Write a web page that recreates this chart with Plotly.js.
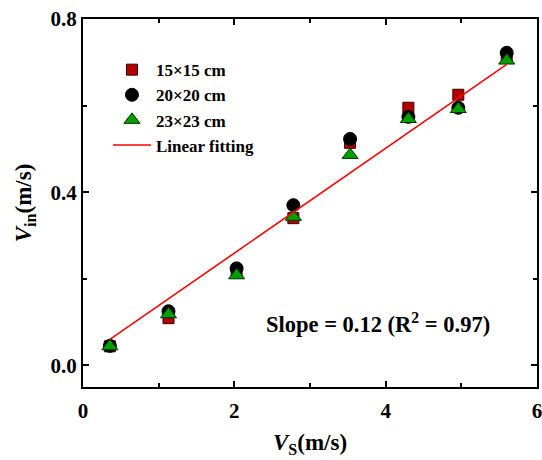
<!DOCTYPE html>
<html><head><meta charset="utf-8">
<script src="https://cdn.plot.ly/plotly-3.0.1.min.js"></script>
<style>html,body{margin:0;padding:0;background:#fff}</style>
</head><body><div id="plot" style="width:542px;height:460px"></div>
<script>
const vs = [0.355, 1.13, 2.03, 2.78, 3.53, 4.30, 4.96, 5.60];
const vin15 = [0.044, 0.109, 0.215, 0.340, 0.514, 0.595, 0.625, 0.710];
const vin20 = [0.045, 0.125, 0.224, 0.370, 0.523, 0.574, 0.595, 0.722];
const vin23 = [0.044, 0.118, 0.208, 0.343, 0.486, 0.569, 0.592, 0.704];
const fitX = [0.355, 5.60];
const fitY = [0.060, 0.695];
const names = ['15×15 cm', '20×20 cm', '23×23 cm', 'Linear fitting'];

const fontFam = '"Liberation Serif", "Times New Roman", serif';
const traces = [
  {x: vs, y: vin15, mode: 'markers', type: 'scatter', name: names[0],
   marker: {symbol: 'square', size: 11, color: '#b30000', line: {color: '#3a0000', width: 1}}},
  {x: vs, y: vin20, mode: 'markers', type: 'scatter', name: names[1],
   marker: {symbol: 'circle', size: 13, color: '#000000', line: {color: '#000', width: 1}}},
  {x: vs, y: vin23, mode: 'markers', type: 'scatter', name: names[2],
   marker: {symbol: 'triangle-up', size: 14, color: '#00a000', line: {color: '#003300', width: 1}}},
  {x: fitX, y: fitY, mode: 'lines', type: 'scatter', name: names[3],
   line: {color: '#ff0000', width: 1.6}}
];
const axisCommon = {
  showgrid: false, zeroline: false, showline: true, linecolor: '#000', linewidth: 2,
  mirror: 'allticks', ticks: 'inside', ticklen: 6, tickwidth: 2, tickcolor: '#000',
  tickfont: {family: fontFam, size: 21, color: '#000', weight: 'bold'}
};
const layout = {
  width: 542, height: 460,
  margin: {l: 83, r: 5, t: 19, b: 73},
  paper_bgcolor: '#fff', plot_bgcolor: '#fff',
  font: {family: fontFam, color: '#000'},
  showlegend: true,
  legend: {x: 0.055, y: 0.91, xanchor: 'left', yanchor: 'top', bgcolor: 'rgba(0,0,0,0)',
           itemwidth: 38,
           font: {family: fontFam, size: 17, color: '#000', weight: 'bold'}, tracegroupgap: 0},
  xaxis: Object.assign({}, axisCommon, {
    range: [0, 6], dtick: 2, tick0: 0, ticklabelstandoff: 4, ticklabeloverflow: 'allow',
    minor: {ticks: 'inside', dtick: 1, ticklen: 4, tickwidth: 2, tickcolor: '#000'},
    title: {text: '<i>V</i><sub>S</sub>(m/s)', standoff: 12,
            font: {family: fontFam, size: 23, color: '#000', weight: 'bold'}}
  }),
  yaxis: Object.assign({}, axisCommon, {
    range: [-0.05, 0.8], dtick: 0.4, tick0: 0, tickformat: '.1f',
    minor: {ticks: 'inside', dtick: 0.2, ticklen: 4, tickwidth: 2, tickcolor: '#000'},
    title: {text: '<i>V</i><sub>in</sub>(m/s)', standoff: 12,
            font: {family: fontFam, size: 23, color: '#000', weight: 'bold'}}
  }),
  annotations: [{
    xref: 'paper', yref: 'paper', x: 0.65, y: 0.175, xanchor: 'center', yanchor: 'middle',
    showarrow: false, text: 'Slope = 0.12 (R<sup>2</sup> = 0.97)',
    font: {family: fontFam, size: 22.5, color: '#000', weight: 'bold'}
  }]
};
Plotly.newPlot('plot', traces, layout, {displayModeBar: false, staticPlot: true});
</script></body></html>
